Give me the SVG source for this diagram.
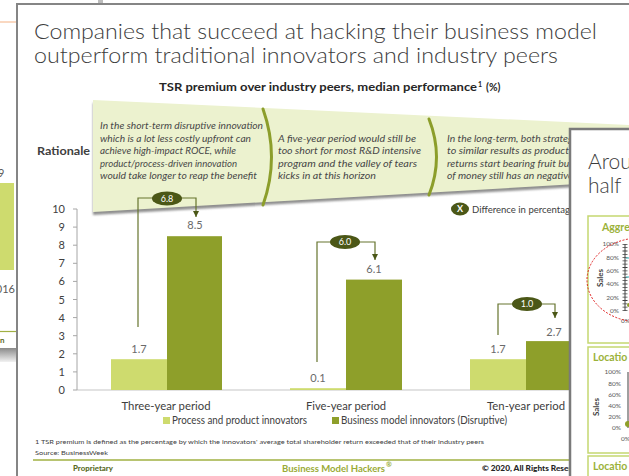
<svg xmlns="http://www.w3.org/2000/svg" width="629" height="476" viewBox="0 0 629 476">
<style>
.t{font-family:Lato,"Open Sans","Liberation Sans",sans-serif;fill:#404040}
.it{font-family:Lato,"Open Sans","Liberation Sans",sans-serif;font-style:italic;font-size:9.5px;fill:#474747}
.ax{font-size:11px;text-anchor:end}
.val{font-size:11px;fill:#6a6a6a;text-anchor:middle}
.xl{font-size:12px;text-anchor:middle}
.lt{fill:#CEDB6E}
.dk{fill:#8E9F2A}
.conn{fill:none;stroke:#66742E;stroke-width:1.2}
.ov{fill:#4B5717}
.ovt{font-family:Lato,"Liberation Sans",sans-serif;font-size:9px;fill:#fff;text-anchor:middle}
.br{fill:none;stroke:#8C9E2B;stroke-width:3;stroke-linecap:round}
.sm{font-size:6.5px;fill:#595959;text-anchor:end}
.box{fill:none;stroke:#C5D770;stroke-width:1.5}
.bt{font-weight:bold;fill:#9BB23A;font-size:10.5px}
.sales{font-weight:bold;font-size:8px;text-anchor:middle}
.ttl{font-size:21px;fill:#3c3c3c;font-weight:300}
</style>
<defs>
<marker id="ah" markerUnits="userSpaceOnUse" markerWidth="7" markerHeight="6" refX="6" refY="3" orient="auto">
<path d="M0,0 L6,3 L0,6 z" fill="#4B5717"/>
</marker>
<filter id="sh" x="-5%" y="-20%" width="110%" height="140%"><feGaussianBlur stdDeviation="1"/></filter>
<linearGradient id="gg" x1="0" y1="0" x2="0" y2="1"><stop offset="0" stop-color="#8a8a8a"/><stop offset="1" stop-color="#f2f2f2"/></linearGradient>
</defs>
<rect width="629" height="476" fill="#fff"/>

<!-- background slide fragments -->
<g id="behind">
<line x1="0" y1="22" x2="16" y2="22" stroke="#F4B183" stroke-width="1"/>
<rect x="98" y="0" width="5" height="3" fill="#bdbdbd"/>
<text class="t" x="-2" y="177" font-size="11" style="fill:#595959">9</text>
<rect x="0" y="183" width="14" height="87" class="lt"/>
<text class="t" x="15" y="293" font-size="11" text-anchor="end" style="fill:#595959">016</text>
<line x1="0" y1="331.5" x2="16" y2="331.5" stroke="#A0B042" stroke-width="1.2"/>
<text class="t" x="0" y="343" font-size="8" font-weight="bold" style="fill:#5A6B1F">n</text>
<rect x="0" y="348" width="16" height="14" fill="url(#gg)"/>
</g>

<!-- main slide -->
<g id="main-slide">
<rect x="17" y="4" width="640" height="500" fill="#fff" stroke="#858585" stroke-width="2"/>
<text class="t ttl" x="34" y="39" textLength="563" lengthAdjust="spacingAndGlyphs">Companies that succeed at hacking their business model</text>
<text class="t ttl" x="34" y="63" textLength="524" lengthAdjust="spacingAndGlyphs">outperform traditional innovators and industry peers</text>
<text class="t" x="159" y="91" font-size="10.5" font-weight="bold" style="fill:#262626" textLength="318" lengthAdjust="spacingAndGlyphs">TSR premium over industry peers, median performance</text>
<text class="t" x="478" y="87" font-size="7" font-weight="bold" style="fill:#262626">1</text>
<text class="t" x="486" y="91" font-size="10.5" font-weight="bold" style="fill:#262626">(%)</text>
</g>

<!-- rationale banner -->
<g id="rationale">
<polygon points="93,103 629,128 629,184 93,215" fill="#8f8f8f" filter="url(#sh)"/>
<polygon points="93,100 629,125 629,181 93,212" fill="#ECF2CF"/>
<text class="t" x="37" y="155" font-size="12" font-weight="bold" textLength="53" lengthAdjust="spacingAndGlyphs">Rationale</text>
<path class="br" d="M263,109 Q280,157 263,205"/>
<path class="br" d="M429,119 Q444,157 429,195"/>
<g id="col1">
<text class="it" x="100" y="129" textLength="163" lengthAdjust="spacingAndGlyphs">In the short-term disruptive innovation</text>
<text class="it" x="100" y="141.5" textLength="151" lengthAdjust="spacingAndGlyphs">which is a lot less costly upfront can</text>
<text class="it" x="100" y="154" textLength="136" lengthAdjust="spacingAndGlyphs">achieve high-impact ROCE, while</text>
<text class="it" x="100" y="166.5" textLength="137" lengthAdjust="spacingAndGlyphs">product/process-driven innovation</text>
<text class="it" x="100" y="179" textLength="157" lengthAdjust="spacingAndGlyphs">would take longer to reap the benefit</text>
</g>
<g id="col2">
<text class="it" x="278" y="141.5" textLength="138" lengthAdjust="spacingAndGlyphs">A five-year period would still be</text>
<text class="it" x="278" y="154" textLength="143" lengthAdjust="spacingAndGlyphs">too short for most R&amp;D intensive</text>
<text class="it" x="278" y="166.5" textLength="139" lengthAdjust="spacingAndGlyphs">program and the valley of tears</text>
<text class="it" x="278" y="179" textLength="98" lengthAdjust="spacingAndGlyphs">kicks in at this horizon</text>
</g>
<g id="col3">
<text class="it" x="447" y="141.5" textLength="126" lengthAdjust="spacingAndGlyphs">In the long-term, both strateg</text>
<text class="it" x="447" y="154" textLength="127" lengthAdjust="spacingAndGlyphs">to similar results as product i</text>
<text class="it" x="447" y="166.5" textLength="126" lengthAdjust="spacingAndGlyphs">returns start bearing fruit but</text>
<text class="it" x="447" y="179" textLength="126" lengthAdjust="spacingAndGlyphs">of money still has an negative</text>
</g>
</g>

<!-- chart axes -->
<g id="axes">
<line x1="77" y1="390" x2="600" y2="390" stroke="#D9D9D9" stroke-width="1.5"/>
<line x1="77" y1="209" x2="77" y2="390" stroke="#A6A6A6" stroke-width="1"/>
<path d="M73,209H77M73,227.1H77M73,245.2H77M73,263.3H77M73,281.4H77M73,299.5H77M73,317.6H77M73,335.7H77M73,353.8H77M73,371.9H77M73,390H77" stroke="#A6A6A6" stroke-width="1"/>
<text class="t ax" x="65" y="213">10</text>
<text class="t ax" x="65" y="231.1">9</text>
<text class="t ax" x="65" y="249.2">8</text>
<text class="t ax" x="65" y="267.3">7</text>
<text class="t ax" x="65" y="285.4">6</text>
<text class="t ax" x="65" y="303.5">5</text>
<text class="t ax" x="65" y="321.6">4</text>
<text class="t ax" x="65" y="339.7">3</text>
<text class="t ax" x="65" y="357.8">2</text>
<text class="t ax" x="65" y="375.9">1</text>
<text class="t ax" x="65" y="394">0</text>
</g>

<!-- bars -->
<g id="three-year">
<rect class="lt" x="111" y="359.2" width="56" height="30.8"/>
<rect class="dk" x="167" y="236.2" width="55" height="153.8"/>
<text class="t val" x="139" y="353">1.7</text>
<text class="t val" x="195" y="229">8.5</text>
<text class="t xl" x="166" y="410" textLength="89" lengthAdjust="spacingAndGlyphs">Three-year period</text>
</g>
<g id="five-year">
<rect class="lt" x="290" y="388.2" width="56" height="1.8"/>
<rect class="dk" x="346" y="279.6" width="56" height="110.4"/>
<text class="t val" x="318" y="382">0.1</text>
<text class="t val" x="374" y="273">6.1</text>
<text class="t xl" x="346" y="410" textLength="80" lengthAdjust="spacingAndGlyphs">Five-year period</text>
</g>
<g id="ten-year">
<rect class="lt" x="470" y="359.2" width="56" height="30.8"/>
<rect class="dk" x="526" y="341.1" width="56" height="48.9"/>
<text class="t val" x="498" y="353">1.7</text>
<text class="t val" x="554" y="336">2.7</text>
<text class="t xl" x="526" y="410" textLength="78" lengthAdjust="spacingAndGlyphs">Ten-year period</text>
</g>

<!-- difference connectors -->
<g id="connectors">
<path class="conn" d="M138,327 V198 H196 V217" marker-end="url(#ah)"/>
<path class="conn" d="M317,362 V242 H375 V260" marker-end="url(#ah)"/>
<path class="conn" d="M498,335 V304 H555 V318" marker-end="url(#ah)"/>
</g>
<g id="diff-68"><ellipse class="ov" cx="167" cy="198.5" rx="15" ry="7"/><text class="ovt" x="167" y="201.8">6.8</text></g>
<g id="diff-60"><ellipse class="ov" cx="345" cy="242" rx="15" ry="7"/><text class="ovt" x="345" y="245.3">6.0</text></g>
<g id="diff-10"><ellipse class="ov" cx="527" cy="304" rx="15" ry="7"/><text class="ovt" x="527" y="307.3">1.0</text></g>

<!-- legends -->
<g id="diff-legend">
<ellipse class="ov" cx="460" cy="209" rx="9" ry="6.5"/>
<text class="ovt" x="460" y="212" font-size="8" font-weight="bold">X</text>
<text class="t" x="472" y="213" font-size="10" textLength="98" lengthAdjust="spacingAndGlyphs">Difference in percentag</text>
</g>
<g id="series-legend">
<rect class="lt" x="163" y="417" width="7" height="7"/>
<text class="t" x="172" y="424" font-size="10.5" textLength="135" lengthAdjust="spacingAndGlyphs">Process and product innovators</text>
<rect class="dk" x="332" y="417" width="7" height="7"/>
<text class="t" x="341" y="424" font-size="10.5" textLength="166" lengthAdjust="spacingAndGlyphs">Business model innovators (Disruptive)</text>
</g>

<!-- footnote and footer -->
<g id="footer">
<text class="t" x="35" y="444" font-size="6.5" textLength="449" lengthAdjust="spacingAndGlyphs">1 TSR premium is defined as the percentage by which the innovators' average total shareholder return exceeded that of their industry peers</text>
<text class="t" x="35" y="455" font-size="6.5" textLength="73" lengthAdjust="spacingAndGlyphs">Source: BusinessWeek</text>
<line x1="33" y1="460" x2="600" y2="460" stroke="#A0B042" stroke-width="1.5"/>
<text class="t" x="73" y="471" font-size="7.5" font-weight="900" style="fill:#5A6B1F" textLength="40" lengthAdjust="spacingAndGlyphs">Proprietary</text>
<text class="t" x="282" y="472" font-size="9.5" font-weight="bold" style="fill:#9AAB36" textLength="103" lengthAdjust="spacingAndGlyphs">Business Model Hackers</text>
<text class="t" x="386" y="467" font-size="7" font-weight="bold" style="fill:#9AAB36">®</text>
<text class="t" x="482" y="471" font-size="7.5" font-weight="900" style="fill:#262626" textLength="94" lengthAdjust="spacingAndGlyphs">© 2020, All Rights Reserv</text>
</g>

<!-- front slide on the right -->
<g id="front-slide">
<rect x="570" y="129" width="100" height="360" fill="#fff" stroke="#7a7a7a" stroke-width="2.5"/>
<text class="t ttl" x="588" y="169">Arou</text>
<text class="t ttl" x="588" y="193">half</text>
<g id="panel-aggregate">
<rect class="box" x="588" y="216" width="60" height="127"/>
<text class="t bt" x="602" y="231">Aggre</text>
<text class="t sm" x="619" y="246.3">100%</text>
<text class="t sm" x="619" y="259.6">80%</text>
<text class="t sm" x="619" y="272.9">60%</text>
<text class="t sm" x="619" y="286.2">40%</text>
<text class="t sm" x="619" y="299.5">20%</text>
<text class="t sm" x="619" y="312.8">0%</text>
<text class="t sales" transform="translate(603,278) rotate(-90)">Sales</text>
<line x1="625" y1="244" x2="625" y2="311" stroke="#404040" stroke-width="1"/>
<line x1="625" y1="244" x2="625" y2="311" stroke="#404040" stroke-width="5" stroke-dasharray="0.8 2.5"/>
<line x1="626" y1="258" x2="629" y2="258" stroke="#4BB8C0" stroke-width="1.2"/>
<line x1="626" y1="277" x2="629" y2="277" stroke="#4BB8C0" stroke-width="1.2"/>
<circle cx="629" cy="305" r="2" fill="#8E9F2A"/>
<text class="t" x="621" y="323" font-size="6.5" style="fill:#595959">0%</text>
<ellipse cx="640" cy="280" rx="53" ry="42" fill="none" stroke="#E02020" stroke-width="1" stroke-dasharray="2 1.5"/>
</g>
<g id="panel-location-1">
<rect class="box" x="588" y="347" width="60" height="106"/>
<text class="t bt" x="593" y="361">Locatio</text>
<text class="t sm" x="621" y="374.3">100%</text>
<text class="t sm" x="621" y="385.5">80%</text>
<text class="t sm" x="621" y="396.7">60%</text>
<text class="t sm" x="621" y="407.9">40%</text>
<text class="t sm" x="621" y="419.1">20%</text>
<text class="t sm" x="621" y="430.3">0%</text>
<text class="t sales" transform="translate(599,407) rotate(-90)">Sales</text>
<line x1="628" y1="372" x2="628" y2="428" stroke="#404040" stroke-width="1"/>
<circle cx="628" cy="424" r="3" fill="#8E9F2A"/>
<text class="t" x="621" y="441" font-size="6.5" style="fill:#595959">0%</text>
</g>
<g id="panel-location-2">
<rect class="box" x="588" y="456" width="60" height="40"/>
<text class="t bt" x="593" y="470">Locatio</text>
</g>
</g>
</svg>
